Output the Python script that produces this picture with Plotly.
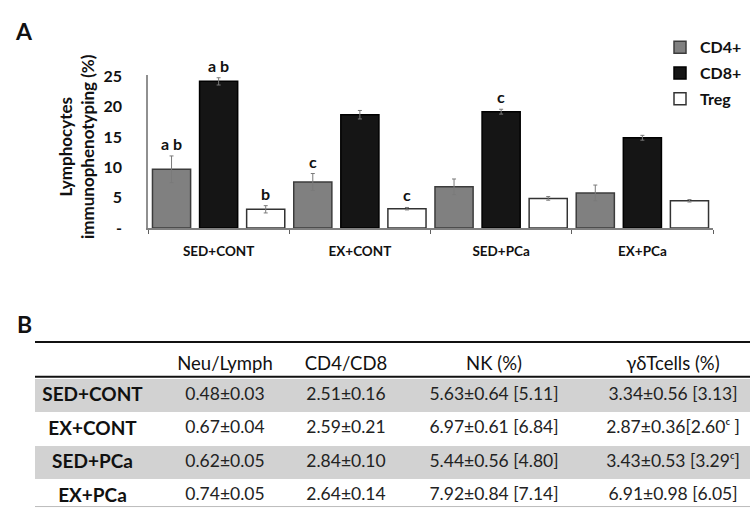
import plotly.graph_objects as go

# ---- Panel A: lymphocyte immunophenotyping (%) ----
groups = ["SED+CONT", "EX+CONT", "SED+PCa", "EX+PCa"]
cd4_mean = [9.7, 7.6, 6.8, 5.8]
cd4_err = [2.2, 1.4, 1.3, 1.3]
cd8_mean = [24.2, 18.7, 19.2, 14.9]
cd8_err = [0.6, 0.7, 0.4, 0.4]
treg_mean = [3.1, 3.2, 4.9, 4.5]
treg_err = [0.6, 0.2, 0.3, 0.2]

# significance letters: (group, series index, label)
sig_letters = [
    ("SED+CONT", 0, "a b"),
    ("SED+CONT", 1, "a b"),
    ("SED+CONT", 2, "b"),
    ("EX+CONT", 0, "c"),
    ("EX+CONT", 2, "c"),
    ("SED+PCa", 1, "c"),
]

y_ticks = [0, 5, 10, 15, 20, 25]
y_ticktext = ["-", "5", "10", "15", "20", "25"]

# ---- Panel B: table ----
table_header = ["", "Neu/Lymph", "CD4/CD8", "NK (%)", "γδTcells (%)"]
row_labels = ["SED+CONT", "EX+CONT", "SED+PCa", "EX+PCa"]
neu_lymph = ["0.48±0.03", "0.67±0.04", "0.62±0.05", "0.74±0.05"]
cd4_cd8 = ["2.51±0.16", "2.59±0.21", "2.84±0.10", "2.64±0.14"]
nk_pct = ["5.63±0.64 [5.11]", "6.97±0.61 [6.84]", "5.44±0.56 [4.80]", "7.92±0.84 [7.14]"]
gd_pct = ["3.34±0.56 [3.13]", "2.87±0.36[2.60ᶜ ]", "3.43±0.53 [3.29ᶜ]", "6.91±0.98 [6.05]"]

W, H = 756, 517
FONT = "Lato"
INK = "#111111"
NBSP = "\u00a0"


def no_wrap(s):
    # keep each table entry on a single line
    return s.replace(" ", NBSP)


series = [
    ("CD4+", cd4_mean, cd4_err, "#808080", "#3c3c3c"),
    ("CD8+", cd8_mean, cd8_err, "#151515", "#000000"),
    ("Treg", treg_mean, treg_err, "#ffffff", "#333333"),
]

fig = go.Figure()
for name, mean, err, fill, edge in series:
    fig.add_trace(go.Bar(
        x=groups, y=mean, name=name, legendgroup=name,
        marker=dict(color=fill, line=dict(color=edge, width=1.5)),
        error_y=dict(type="data", array=err, color="#7a7a7a", thickness=1, width=2),
        xaxis="x", yaxis="y",
    ))

# significance letters placed just above each error bar
all_means = [cd4_mean, cd8_mean, treg_mean]
all_errs = [cd4_err, cd8_err, treg_err]
slot_px = 47
annotations = []
for grp, si, lab in sig_letters:
    gi = groups.index(grp)
    top = all_means[si][gi] + all_errs[si][gi]
    annotations.append(dict(
        x=grp, y=top, xref="x", yref="y", text=lab, showarrow=False,
        xshift=(si - 1) * slot_px, xanchor="center", yanchor="bottom", yshift=1,
        font=dict(family=FONT, size=16, color=INK, weight="bold"),
    ))

# y-axis title (two lines, rotated)
annotations.append(dict(
    x=76 / W, y=1 - 143 / H, xref="paper", yref="paper",
    xanchor="center", yanchor="middle",
    text="Lymphocytes<br>immunophenotyping (%)", textangle=-90, showarrow=False,
    font=dict(family=FONT, size=17, color=INK, weight="bold"),
))
# panel letters
for letter, cy in (("A", 23), ("B", 326)):
    annotations.append(dict(
        x=24 / W, y=1 - cy / H, xref="paper", yref="paper", text=letter,
        xanchor="center", yanchor="middle", showarrow=False,
        font=dict(family=FONT, size=23, color=INK, weight="bold"),
    ))

# table
gray = "#d2d2d2"
row_fill = [gray if i % 2 == 0 else "#ffffff" for i in range(len(row_labels))]
fig.add_trace(go.Table(
    domain=dict(x=[35 / W, 750 / W], y=[1 - 516.5 / H, 1 - 351 / H]),
    columnwidth=[115, 150, 92, 204, 154],
    header=dict(
        values=[no_wrap(h) for h in table_header], height=31, align="center",
        fill=dict(color="#ffffff"), line=dict(color="#ffffff", width=0),
        font=dict(family=FONT, size=18.5, color=INK),
    ),
    cells=dict(
        values=[row_labels, neu_lymph, cd4_cd8,
                [no_wrap(v) for v in nk_pct],
                [no_wrap(v) for v in gd_pct]],
        height=33.5, align="center",
        fill=dict(color=[row_fill] * 5), line=dict(color=[row_fill] * 5, width=0),
        font=dict(family=FONT, size=[19, 17.5, 17.5, 17.5, 17.5],
                  weight=["bold", "normal", "normal", "normal", "normal"],
                  color=[INK, "#222222", "#222222", "#222222", "#222222"]),
    ),
))

table_x0, table_x1 = 35 / W, 750 / W
shapes = [
    dict(type="line", xref="paper", yref="paper", x0=table_x0, x1=table_x1,
         y0=1 - 345 / H, y1=1 - 345 / H, line=dict(color=INK, width=2.2)),
    dict(type="line", xref="paper", yref="paper", x0=table_x0, x1=table_x1,
         y0=1 - 381 / H, y1=1 - 381 / H, line=dict(color=INK, width=2.2)),
    dict(type="line", xref="paper", yref="paper", x0=table_x0, x1=table_x1,
         y0=1 - 515.5 / H, y1=1 - 515.5 / H, line=dict(color="#bbbbbb", width=1)),
]

fig.update_layout(
    width=W, height=H, margin=dict(l=0, r=0, t=0, b=0),
    paper_bgcolor="white", plot_bgcolor="white",
    barmode="group", bargap=0.0, bargroupgap=0.19,
    xaxis=dict(
        domain=[148 / W, 713 / W], anchor="y",
        showline=True, linecolor="#808080", linewidth=1.5,
        ticks="outside", tickson="boundaries", ticklen=4, tickcolor="#606060",
        ticklabelstandoff=10, showgrid=False,
        tickfont=dict(family=FONT, size=13.5, color=INK, weight="bold"),
    ),
    yaxis=dict(
        domain=[1 - 227 / H, 1 - 68.7 / H], anchor="x", range=[0, 25.2],
        showline=True, linecolor="#909090", linewidth=1.5,
        tickvals=y_ticks, ticktext=y_ticktext, ticks="",
        ticklabelstandoff=21, showgrid=False, zeroline=False,
        tickfont=dict(family=FONT, size=16, color=INK, weight="bold"),
    ),
    legend=dict(
        x=660 / W, y=1 - 22 / H, xanchor="left", yanchor="top",
        tracegroupgap=2, bgcolor="rgba(0,0,0,0)",
        font=dict(family=FONT, size=16, color=INK, weight="bold"),
    ),
    annotations=annotations, shapes=shapes,
    showlegend=True,
)

fig.write_html("out.html")
